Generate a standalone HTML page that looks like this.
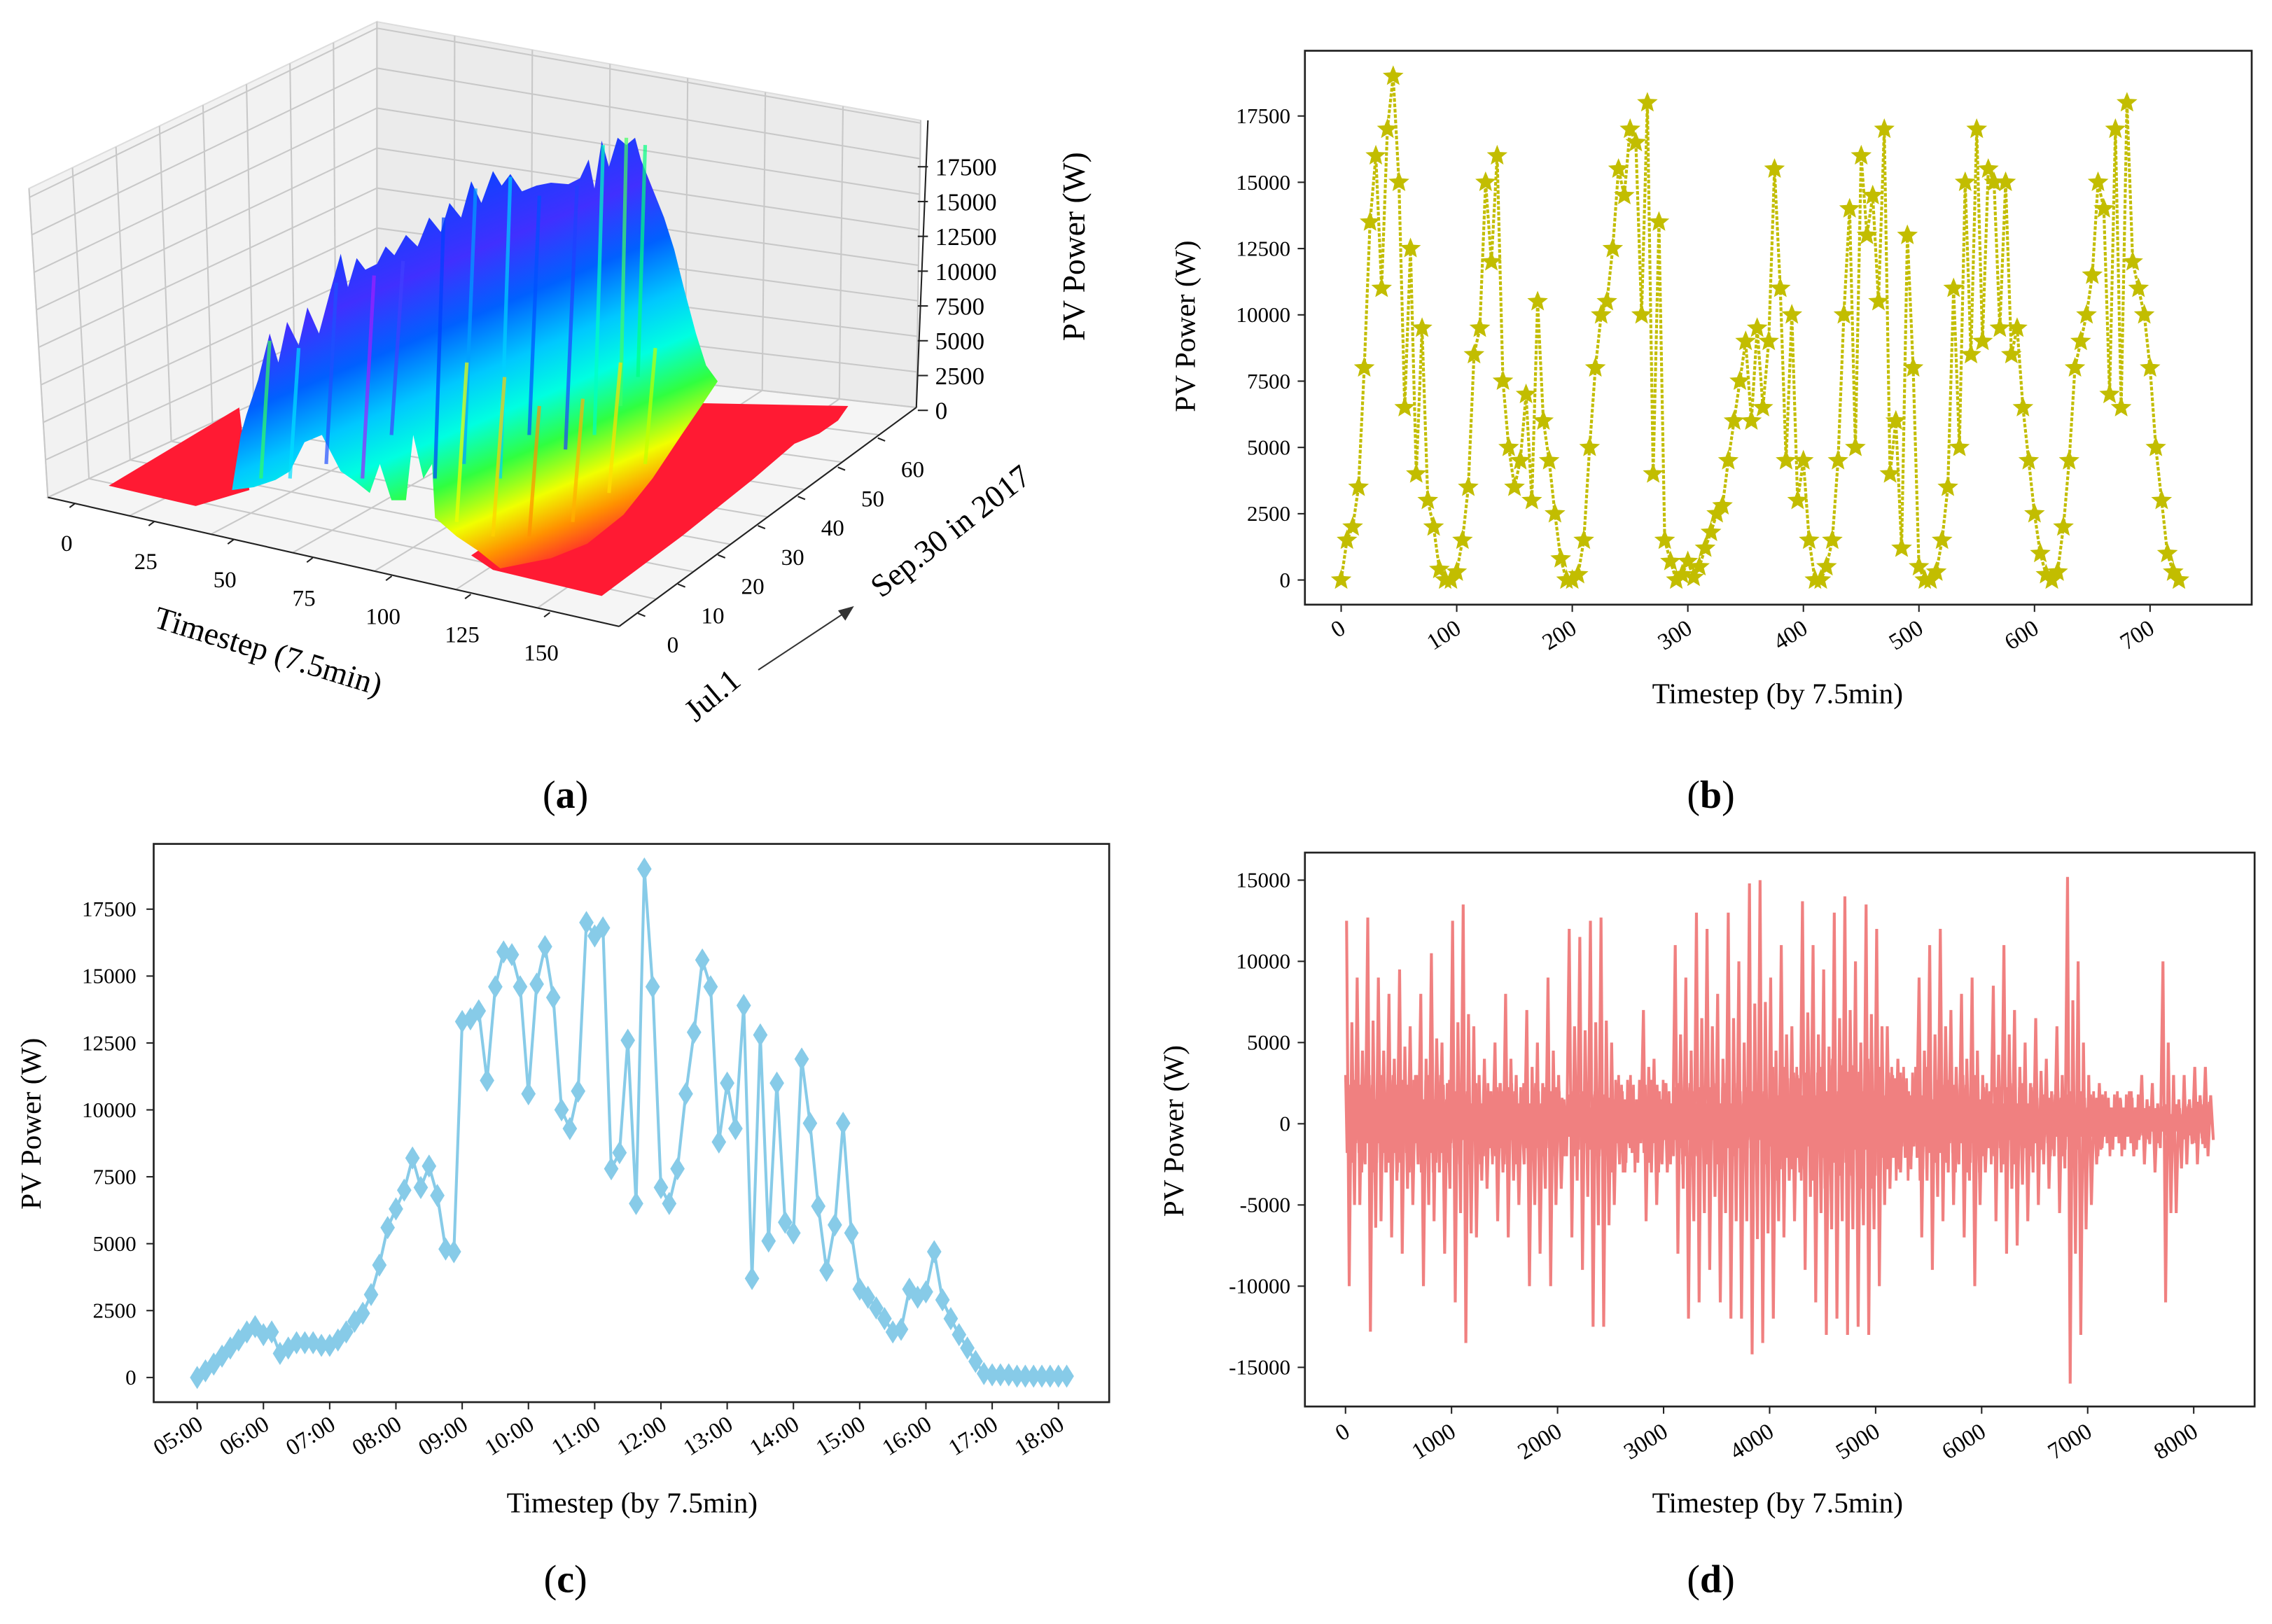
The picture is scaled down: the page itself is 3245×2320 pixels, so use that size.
<!DOCTYPE html>
<html><head><meta charset="utf-8"><style>
html,body{margin:0;padding:0;background:#fff;}
svg{display:block;font-family:"Liberation Serif",serif;}
</style></head><body>
<svg id="fig" width="3245" height="2320" viewBox="0 0 1567 1120" preserveAspectRatio="none" xmlns="http://www.w3.org/2000/svg">
<defs>
<linearGradient id="surfGrad" gradientUnits="userSpaceOnUse" x1="300" y1="100" x2="420" y2="390">
<stop offset="0" stop-color="#30ff90"/>
<stop offset="0.1" stop-color="#1040ff"/>
<stop offset="0.25" stop-color="#4030ff"/>
<stop offset="0.38" stop-color="#0060ff"/>
<stop offset="0.5" stop-color="#00c8ff"/>
<stop offset="0.6" stop-color="#00ffe0"/>
<stop offset="0.7" stop-color="#30ff40"/>
<stop offset="0.8" stop-color="#f0ff00"/>
<stop offset="0.88" stop-color="#ff9000"/>
<stop offset="0.96" stop-color="#ff2030"/>
</linearGradient>
</defs>
<rect x="0" y="0" width="1567" height="1120" fill="#fff"/>
<g id="pa"></g>
<g id="pb"></g>
<g id="pc"></g>
<g id="pd"></g>
<text x="390" y="557" font-size="27" text-anchor="middle">(<tspan font-weight="bold">a</tspan>)</text>
<text x="1180" y="557" font-size="27" text-anchor="middle">(<tspan font-weight="bold">b</tspan>)</text>
<text x="390" y="1098" font-size="27" text-anchor="middle">(<tspan font-weight="bold">c</tspan>)</text>
<text x="1180" y="1098" font-size="27" text-anchor="middle">(<tspan font-weight="bold">d</tspan>)</text>
</svg>
<script>
// ---------- data: panel b ----------
const bStep = 5;
const bValues = [0,1500,2000,3500,8000,13500,16000,11000,17000,19000,15000,6500,12500,4000,9500,3000,2000,400,0,
0,300,1500,3500,8500,9500,15000,12000,16000,7500,5000,3500,4500,7000,3000,10500,6000,4500,2500,800,
0,0,200,1500,5000,8000,10000,10500,12500,15500,14500,17000,16500,10000,18000,4000,13500,1500,700,0,
200,700,100,500,1200,1800,2500,2800,4500,6000,7500,9000,6000,9500,6500,9000,15500,11000,4500,10000,
3000,4500,1500,0,0,500,1500,4500,10000,14000,5000,16000,13000,14500,10500,17000,4000,6000,1200,13000,
8000,500,0,0,300,1500,3500,11000,5000,15000,8500,17000,9000,15500,15000,9500,15000,8500,9500,6500,
4500,2500,1000,200,0,300,2000,4500,8000,9000,10000,11500,15000,14000,7000,17000,6500,18000,12000,11000,
10000,8000,5000,3000,1000,300,0];
const bXTicks = [0,100,200,300,400,500,600,700];
const bYTicks = [0,2500,5000,7500,10000,12500,15000,17500];
// ---------- data: panel c ----------
const cValues = [0,250,500,800,1100,1400,1700,1900,
1600,1700,900,1100,1300,1300,1300,1200,
1200,1400,1700,2100,2400,3100,4200,5600,
6300,7000,8200,7100,7900,6800,4800,4700,
13300,13400,13700,11100,14600,15900,15800,14600,
10600,14700,16100,14200,10000,9300,10700,17000,
16500,16800,7800,8400,12600,6500,19000,14600,
7100,6500,7800,10600,12900,15600,14600,8800,
11000,9300,13900,3700,12800,5100,11000,5800,
5400,11900,9500,6400,4000,5700,9500,5400,
3300,3000,2600,2200,1700,1800,3300,3000,
3200,4700,2900,2200,1600,1100,600,150,
100,100,100,50,50,50,50,50,50,50];
const cXTickLabels = ["05:00","06:00","07:00","08:00","09:00","10:00","11:00","12:00","13:00","14:00","15:00","16:00","17:00","18:00"];
const cYTicks = [0,2500,5000,7500,10000,12500,15000,17500];
// ---------- data: panel d ----------
const dBin = 100;
const dMax = [12500,9000,12700,9000,8000,9500,6000,8000,10500,5000,12500,13500,6000,4000,5000,8000,3000,7000,5000,9000,3000,12000,11500,12500,12700,5000,2000,1500,7000,4000,2500,11000,9000,13000,12000,8000,13000,10000,14800,15000,9000,11000,6000,13700,11000,9500,13000,14000,10000,13500,12000,6000,4000,2000,9000,11000,12000,7000,8000,9000,3000,8500,11000,7000,5000,6500,4000,6000,15200,10000,3000,2500,1000,1500,2000,3000,2500,10000,3000,3000,3500,3500];
const dMin = [-10000,-5000,-12800,-6000,-7000,-8000,-5000,-10000,-6000,-8000,-11000,-13500,-7000,-4000,-6000,-7000,-5000,-10000,-8000,-10000,-4000,-7000,-9000,-12500,-12500,-5000,-3000,-2000,-6000,-5000,-3000,-8000,-12000,-11000,-9000,-11000,-12000,-12000,-14200,-13500,-12000,-7000,-6000,-9000,-11000,-13000,-12000,-13000,-12500,-13000,-10000,-4000,-3000,-2000,-7000,-9000,-6000,-5000,-7000,-10000,-3000,-6000,-8000,-7500,-6000,-5000,-4000,-5500,-16000,-13000,-5000,-1500,-1000,-1500,-2000,-2500,-3000,-11000,-5500,-2500,-2500,-2000];
const dCoreStep = 500;
const dCore = [3000,3000,2500,2500,2000,3000,2500,2500,3500,4000,3500,3000,2500,2000,2000,1200,1500];
const dXTicks = [0,1000,2000,3000,4000,5000,6000,7000,8000];
const dYTicks = [-15000,-10000,-5000,0,5000,10000,15000];

const NS = "http://www.w3.org/2000/svg";
function mk(tag, parent, attrs){ const e=document.createElementNS(NS,tag); for(const k in attrs) e.setAttribute(k,attrs[k]); parent.appendChild(e); return e; }
function txt(parent, x, y, s, size, anchor, rot){ const t=mk('text',parent,{x:x,y:y,'font-size':size,'text-anchor':anchor||'middle'}); if(rot) t.setAttribute('transform','rotate('+rot+' '+x+' '+y+')'); t.textContent=s; return t; }
function frame(g, x0,y0,x1,y1){
  const r=mk('rect',g,{x:x0,y:y0,width:x1-x0,height:y1-y0,fill:'none',stroke:'#222','stroke-width':1.3});
  
  
}

// ---------- panel b ----------
(function(){
  const g=document.getElementById('pb');
  const X=v=>925+v*0.797, Y=v=>400-v*(320/17500);
  frame(g,900,35,1553,417);
  bYTicks.forEach(v=>{ mk('line',g,{x1:895,x2:900,y1:Y(v),y2:Y(v),stroke:'#222'});
    const t=txt(g,890,Y(v)+5,String(v),15,'end');
    
     });
  bXTicks.forEach(v=>{ mk('line',g,{x1:X(v),x2:X(v),y1:417,y2:422,stroke:'#222'});
    const t=txt(g,X(v)+4,436,String(v),16,'end',-32);
    
     });
  const pts=bValues.map((v,i)=>X(i*bStep)+','+Y(v)).join(' ');
  const line=mk('polyline',g,{points:pts,fill:'none',stroke:'#c2bd00','stroke-width':2,'stroke-dasharray':'2.5,1.2'});
  
  
  bValues.forEach((v,i)=>{
    const cx=X(i*bStep), cy=Y(v), r=7.5, r2=3.3; let d='';
    for(let k=0;k<10;k++){ const a=-Math.PI/2+k*Math.PI/5, rr=k%2?r2:r; d+=(k?'L':'M')+(cx+rr*Math.cos(a)).toFixed(1)+','+(cy+rr*Math.sin(a)).toFixed(1); }
    const s=mk('path',g,{d:d+'Z',fill:'#c2bd00'});
    
    
  });
  const yl=txt(g,824,225,'PV Power (W)',20,'middle',-90);
  
  
  const xl=txt(g,1226,485,'Timestep (by 7.5min)',20,'middle');
  
  
})();

// ---------- panel c ----------
(function(){
  const g=document.getElementById('pc');
  const X=i=>136+i*(594/104), Y=v=>950-v*(323/17500);
  frame(g,106,582,765,967);
  cYTicks.forEach(v=>{ mk('line',g,{x1:101,x2:106,y1:Y(v),y2:Y(v),stroke:'#222'});
    const t=txt(g,94,Y(v)+5,String(v),15,'end');
    
     });
  cXTickLabels.forEach((s,k)=>{ const x=X(k*8); mk('line',g,{x1:x,x2:x,y1:967,y2:972,stroke:'#222'});
    const t=txt(g,x+5,985,s,16,'end',-32);
    
     });
  const pts=cValues.map((v,i)=>X(i)+','+Y(v)).join(' ');
  const line=mk('polyline',g,{points:pts,fill:'none',stroke:'#87cbe8','stroke-width':2});
  
  
  cValues.forEach((v,i)=>{ const x=X(i), y=Y(v);
    const m=mk('path',g,{d:`M${x},${y-8}L${x+5},${y}L${x},${y+8}L${x-5},${y}Z`,fill:'#87cbe8'});
    
     });
  const yl=txt(g,28,775,'PV Power (W)',20,'middle',-90);
  
  
  const xl=txt(g,436,1043,'Timestep (by 7.5min)',20,'middle');
  
  
})();

// ---------- panel d ----------
(function(){
  const g=document.getElementById('pd');
  const X=v=>928+v*(585/8000), Y=v=>775-v*(168/15000);
  frame(g,900,588,1555,970);
  dYTicks.forEach(v=>{ mk('line',g,{x1:895,x2:900,y1:Y(v),y2:Y(v),stroke:'#222'});
    const t=txt(g,890,Y(v)+5,String(v),15,'end');
    
     });
  dXTicks.forEach(v=>{ mk('line',g,{x1:X(v),x2:X(v),y1:970,y2:975,stroke:'#222'});
    const t=txt(g,X(v)+4,990,String(v),16,'end',-32);
    
     });
  // dense core zigzag
  let cp=[]; const xEnd=8150;
  for(let s=0, k=0; s<=xEnd; s+=14, k++){ const c=dCore[Math.min(dCore.length-1,Math.floor(s/dCoreStep))]; const f=[1,-0.6,0.8,-1,0.5,-0.8,0.9,-0.4][k%8]; cp.push(X(s)+','+Y(c*f)); }
  const core=mk('polyline',g,{points:cp.join(' '),fill:'none',stroke:'#f08080','stroke-width':1.8});
  
  
  let pts=[];
  dMax.forEach((mx,i)=>{ const x0=i*dBin;
    pts.push(X(x0+10)+','+Y(mx)); pts.push(X(x0+35)+','+Y(dMin[i])); pts.push(X(x0+60)+','+Y(mx*0.5)); pts.push(X(x0+85)+','+Y(dMin[i]*0.5)); });
  const line=mk('polyline',g,{points:pts.join(' '),fill:'none',stroke:'#f08080','stroke-width':2});
  
  
  const yl=txt(g,816,780,'PV Power (W)',20,'middle',-90);
  
  
  const xl=txt(g,1226,1043,'Timestep (by 7.5min)',20,'middle');
  
  
})();

// ---------- panel a (3D) ----------
const aXTicks=[0,25,50,75,100,125,150];
const aYTicks=[0,10,20,30,40,50,60];
const aZTicks=[0,2500,5000,7500,10000,12500,15000,17500];
(function(){
  const g=document.getElementById('pa');
  const L=(a,b,t)=>[a[0]+(b[0]-a[0])*t,a[1]+(b[1]-a[1])*t];
  const fl=[33,343], bk=[260,240], rt=[632,281], fr=[427,432];
  const lt=[20,130], bkT=[260,15], rtT=[635,83];
  const p1=mk('polygon',g,{points:[fl,bk,bkT,lt].map(p=>p.join(',')).join(' '),fill:'#f2f2f2',stroke:'#ddd'});
  
  
  const p2=mk('polygon',g,{points:[bk,rt,rtT,bkT].map(p=>p.join(',')).join(' '),fill:'#ebebeb',stroke:'#ddd'});
  
  
  const p3=mk('polygon',g,{points:[fl,bk,rt,fr].map(p=>p.join(',')).join(' '),fill:'#f5f5f5',stroke:'#ddd'});
  
  
  const gl=(a,b)=>mk('line',g,{x1:a[0],y1:a[1],x2:b[0],y2:b[1],stroke:'#c8c8c8','stroke-width':1});
  for(let k=0;k<=8;k++){ const t=k/8; gl(L(fl,bk,t),L(lt,bkT,t)); }
  for(let k=0;k<=7;k++){ const t=k/7; gl(L(bk,rt,t),L(bkT,rtT,t)); gl(L(fl,fr,t),L(bk,rt,t)); }
  for(let k=0;k<=8;k++){ const t=k/8; gl(L(fl,bk,t),L(fr,rt,t)); }
  for(let k=1;k<=8;k++){ const f=k*2500/20400; const a=[fl[0]+(lt[0]-fl[0])*f, fl[1]-f*211], b=[bk[0], bk[1]-f*225], c=[rt[0]+(rtT[0]-rt[0])*f, rt[1]-f*200]; gl(a,b); gl(b,c); }
  const red1=mk('polygon',g,{points:'75,335 165,281 172,338 135,349',fill:'#ff1a33'});
  
  
  const red2=mk('polygon',g,{points:'325,383 480,278 585,280 578,290 565,299 548,306 520,330 470,370 415,411 340,393',fill:'#ff1a33'});
  
  
  const mtn='160,338 166,300 170,286 178,262 186,230 192,250 198,222 206,238 212,212 220,230 228,200 235,175 240,198 246,178 252,186 260,182 266,170 272,176 280,162 288,170 296,150 304,160 310,140 318,150 325,125 332,140 340,118 346,128 352,120 360,132 370,128 380,126 392,127 400,123 406,110 410,130 415,97 420,115 426,95 432,100 438,95 442,110 450,130 458,150 465,172 472,200 480,230 487,252 495,263 485,278 470,300 450,330 430,355 405,375 380,385 345,392 330,380 315,370 300,357 298,320 292,330 285,300 280,345 270,345 262,320 255,340 245,332 235,325 222,300 210,305 200,325 190,331 175,336';
  const m=mk('polygon',g,{points:mtn,fill:'url(#surfGrad)'});
  
  
  // spiky texture strokes
  const spikes=[[180,330,186,235,'#30ff60'],[200,330,206,240,'#00e0ff'],[225,320,232,195,'#2050ff'],[250,330,258,190,'#a020ff'],[270,300,278,180,'#4040ff'],[300,330,306,150,'#0040ff'],[320,320,328,130,'#00a0ff'],[345,330,352,122,'#00d0ff'],[365,300,372,135,'#0050ff'],[390,310,398,128,'#2040ff'],[410,300,416,100,'#00ffc0'],[428,280,432,95,'#40ff60'],[440,260,445,100,'#00ff80'],[315,360,322,250,'#f0ff00'],[340,370,348,260,'#ffd000'],[365,370,372,280,'#ff9000'],[395,360,402,275,'#ffb000'],[420,340,428,250,'#ffe000'],[445,320,452,240,'#c0ff00']];
  spikes.forEach(s=>{ const l=mk('line',g,{x1:s[0],y1:s[1],x2:s[2],y2:s[3],stroke:s[4],'stroke-width':2.5,'stroke-opacity':0.7});
    
     });
  mk('line',g,{x1:fl[0],y1:fl[1],x2:fr[0],y2:fr[1],stroke:'#222'});
  mk('line',g,{x1:fr[0],y1:fr[1],x2:rt[0],y2:rt[1],stroke:'#222'});
  mk('line',g,{x1:rt[0],y1:rt[1],x2:rtT[0]+5,y2:rtT[1],stroke:'#222'});
  aXTicks.forEach(v=>{ const p=L([52,347],[412,430],v/165);
    mk('line',g,{x1:p[0],y1:p[1],x2:p[0]-4,y2:p[1]+3,stroke:'#222'});
    const t=txt(g,p[0]-6,p[1]+33,String(v),16,'middle');
    
     });
  aYTicks.forEach(v=>{ const p=L([440,423],[622,290],v/66);
    mk('line',g,{x1:p[0],y1:p[1],x2:p[0]+5,y2:p[1]+2,stroke:'#222'});
    const t=txt(g,p[0]+24,p[1]+27,String(v),16,'middle');
    
     });
  aZTicks.forEach(v=>{ const y=283-v*(168/17500);
    mk('line',g,{x1:633,y1:y,x2:640,y2:y,stroke:'#222'});
    const t=txt(g,645,y+6,String(v),17,'start');
    
     });
  const zl=txt(g,748,170,'PV Power (W)',22,'middle',-90);
  
  
  const xl=txt(g,183,456,'Timestep (7.5min)',22,'middle',17);
  
  
  const sl=txt(g,660,372,'Sep.30 in 2017',22,'middle',-38);
  
  
  const jl=txt(g,496,485,'Jul.1',22,'middle',-40);
  
  
  const ar=mk('line',g,{x1:523,y1:462,x2:585,y2:421,stroke:'#333','stroke-width':1});
  
  
  mk('path',g,{d:'M589,418 L578,421 L583,428 Z',fill:'#333'});
})();
</script>
</body></html>
